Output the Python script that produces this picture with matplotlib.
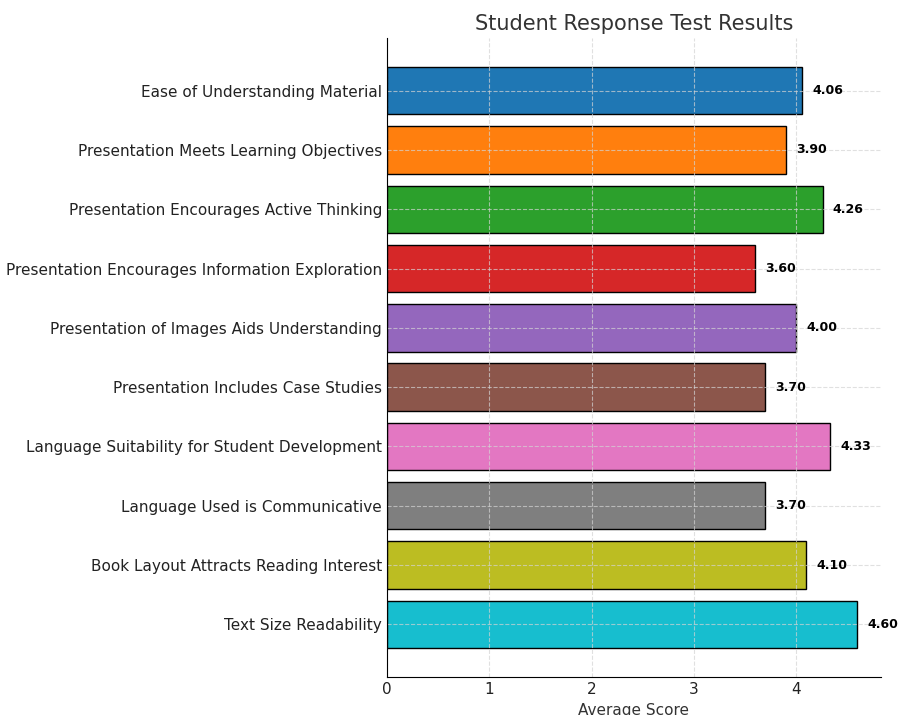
import matplotlib
matplotlib.use("Agg")
from matplotlib import pyplot as plt

# criterios de la encuesta (de arriba hacia abajo)
criterios = [
    "Ease of Understanding Material",
    "Presentation Meets Learning Objectives",
    "Presentation Encourages Active Thinking",
    "Presentation Encourages Information Exploration",
    "Presentation of Images Aids Understanding",
    "Presentation Includes Case Studies",
    "Language Suitability for Student Development",
    "Language Used is Communicative",
    "Book Layout Attracts Reading Interest",
    "Text Size Readability",
]
puntajes = [4.06, 3.90, 4.26, 3.60, 4.00, 3.70, 4.33, 3.70, 4.10, 4.60]
colores = ["#1f77b4", "#ff7f0e", "#2ca02c", "#d62728", "#9467bd",
           "#8c564b", "#e377c2", "#7f7f7f", "#bcbd22", "#17becf"]

fig = plt.figure(figsize=(8.98, 7.15), dpi=100)
ax = fig.add_axes([0.431, 0.053, 0.55, 0.894])

ax.barh(criterios, puntajes, color=colores, edgecolor="black", height=0.8)
ax.invert_yaxis()

for i, v in enumerate(puntajes):
    ax.text(v + 0.1, i, f"{v:.2f}", va="center", ha="left",
            fontsize=9, fontweight="bold", color="black")

ax.set_xlim(0, max(puntajes) * 1.05)
ax.set_title("Student Response Test Results", fontsize=15, color="#333333")
ax.set_xlabel("Average Score", fontsize=11, color="#333333")
ax.tick_params(axis="both", labelsize=11, colors="#222222", length=0)
ax.grid(True, linestyle="--", color="lightgray", alpha=0.7)
ax.spines["top"].set_visible(False)
ax.spines["right"].set_visible(False)

fig.savefig("out.png", dpi=100)
